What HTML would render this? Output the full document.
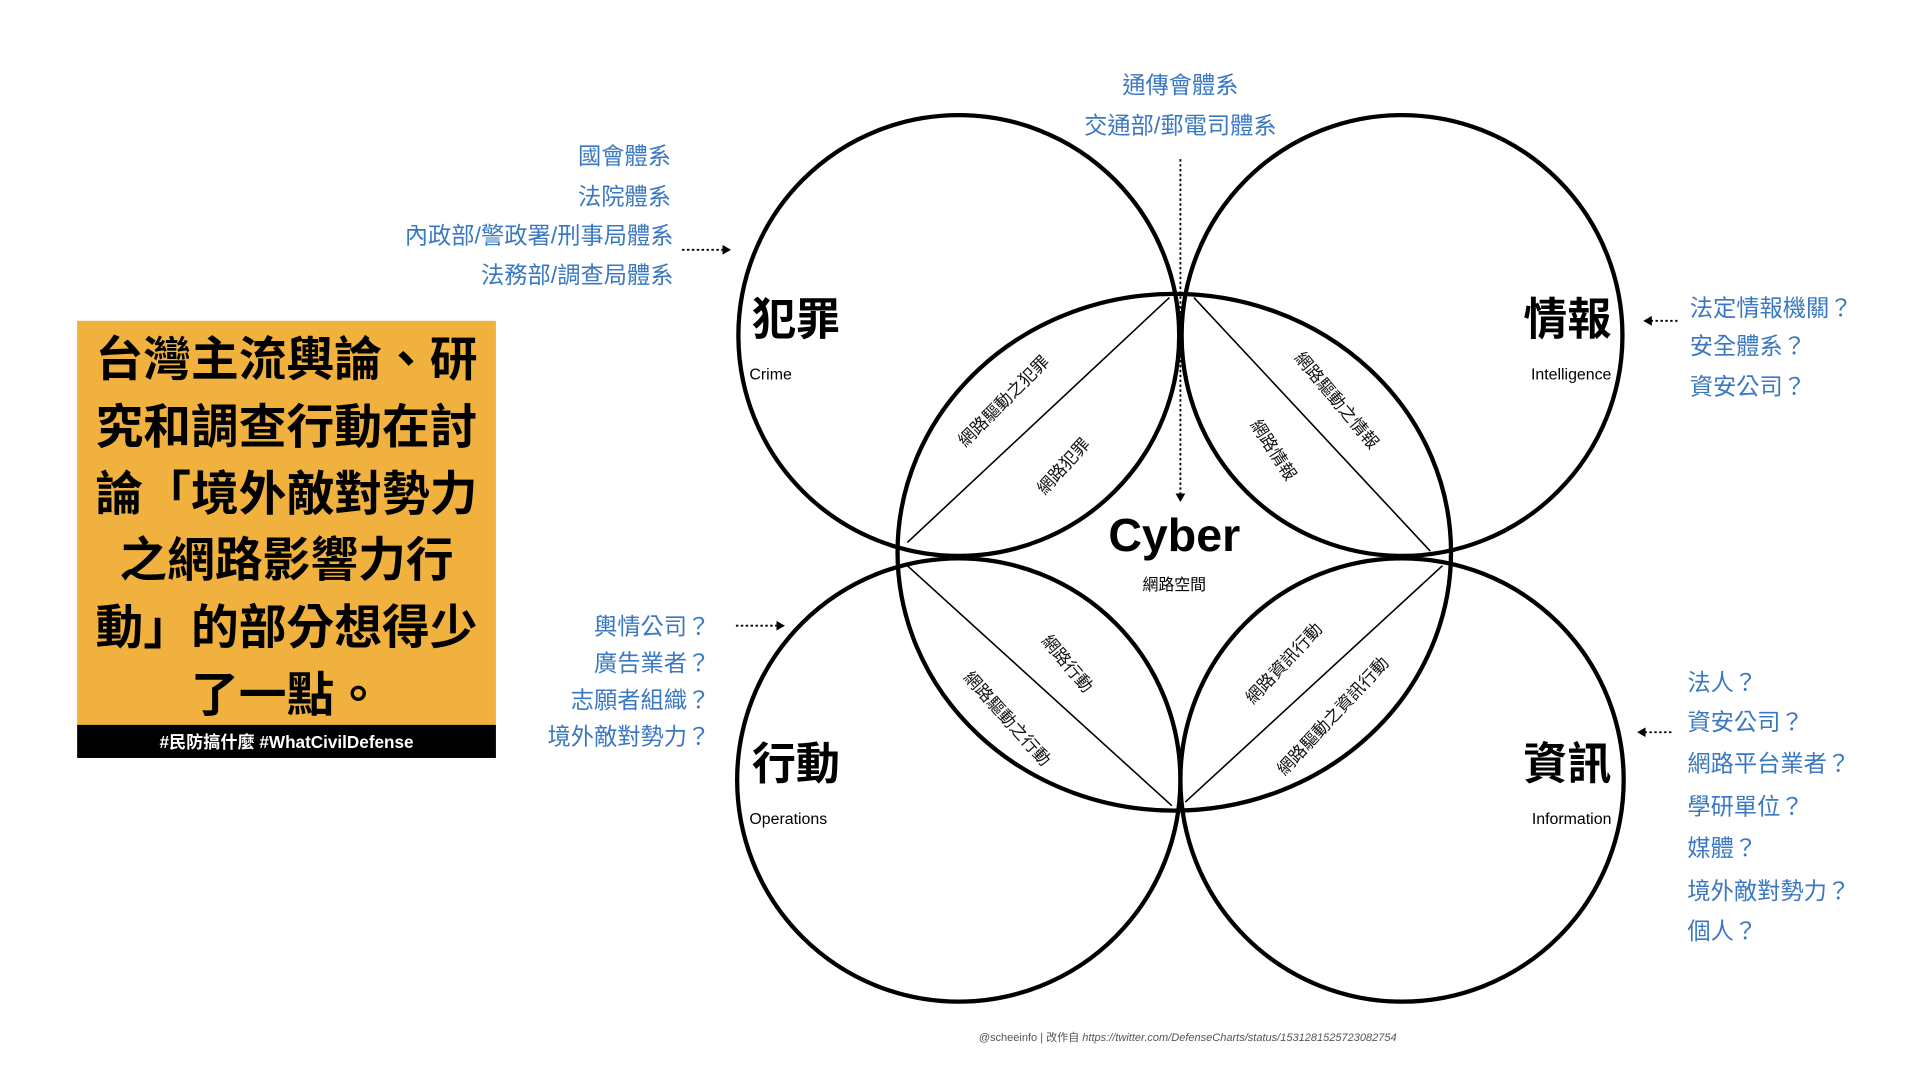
<!DOCTYPE html>
<html><head><meta charset="utf-8"><style>
html,body{margin:0;padding:0;background:#fff;}
svg{display:block;}
text{font-family:"Liberation Sans","Noto Sans CJK TC",sans-serif;}
.b{fill:#3b78c2;font-size:19px;}
.r{text-anchor:end;}
.m{text-anchor:middle;}
.lab{font-size:14px;fill:#111;text-anchor:middle;}
</style></head><body>
<svg width="1920" height="1080" viewBox="0 0 1568 882" preserveAspectRatio="none" xmlns="http://www.w3.org/2000/svg">
<defs><marker id="ah" markerWidth="8" markerHeight="8" refX="6" refY="4" orient="auto" markerUnits="userSpaceOnUse"><path d="M0,0 L7,4 L0,8 z" fill="#000"/></marker></defs>
<rect x="0" y="0" width="1568" height="882" fill="#fff"/>
<rect x="63" y="262" width="342" height="331" fill="#f0b13f"/>
<rect x="63" y="592" width="342" height="27" fill="#000"/>
<g font-weight="bold" font-size="39" fill="#000" text-anchor="middle">
<text x="234" y="307">台灣主流輿論、研</text>
<text x="234" y="362">究和調查行動在討</text>
<text x="234" y="417">論「境外敵對勢力</text>
<text x="234" y="471">之網路影響力行</text>
<text x="234" y="526">動」的部分想得少</text>
<text x="234" y="581">了一點。</text>
</g>
<text x="234" y="611" font-size="14" font-weight="bold" fill="#fff" text-anchor="middle">#民防搞什麼 #WhatCivilDefense</text>
<g fill="none" stroke="#000" stroke-width="3.5">
<circle cx="783" cy="274" r="180"/>
<circle cx="1145" cy="274" r="180"/>
<circle cx="783" cy="637" r="181"/>
<circle cx="1145" cy="637" r="181"/>
<ellipse cx="959" cy="451" rx="226" ry="211"/>
</g>
<g stroke="#000" stroke-width="1.3">
<line x1="741" y1="443" x2="955" y2="243"/>
<line x1="975" y1="243" x2="1168" y2="450"/>
<line x1="741" y1="462" x2="957" y2="658"/>
<line x1="968" y1="655" x2="1178" y2="462"/>
</g>
<text x="614" y="273" font-size="36" font-weight="bold">犯罪</text>
<text x="612" y="310" font-size="13">Crime</text>
<text x="1316" y="273" font-size="36" font-weight="bold" text-anchor="end">情報</text>
<text x="1316" y="310" font-size="13" text-anchor="end">Intelligence</text>
<text x="614" y="636" font-size="36" font-weight="bold">行動</text>
<text x="612" y="673" font-size="13">Operations</text>
<text x="1316" y="636" font-size="36" font-weight="bold" text-anchor="end">資訊</text>
<text x="1316" y="673" font-size="13" text-anchor="end">Information</text>
<text x="959" y="450" font-size="38" font-weight="bold" class="m">Cyber</text>
<text x="959" y="482" font-size="13" class="m">網路空間</text>
<text class="lab" transform="translate(823,331) rotate(-45)">網路驅動之犯罪</text>
<text class="lab" transform="translate(872,384) rotate(-48)">網路犯罪</text>
<text class="lab" transform="translate(1088,330) rotate(50)">網路驅動之情報</text>
<text class="lab" transform="translate(1036,370) rotate(57)">網路情報</text>
<text class="lab" transform="translate(868,545) rotate(50)">網路行動</text>
<text class="lab" transform="translate(819,590) rotate(48)">網路驅動之行動</text>
<text class="lab" transform="translate(1052,545) rotate(-47)">網路資訊行動</text>
<text class="lab" transform="translate(1092,588) rotate(-47)">網路驅動之資訊行動</text>
<text class="b r" x="548" y="134">國會體系</text>
<text class="b r" x="548" y="167">法院體系</text>
<text class="b r" x="550" y="199">內政部/警政署/刑事局體系</text>
<text class="b r" x="550" y="231">法務部/調查局體系</text>
<text class="b m" x="964" y="76">通傳會體系</text>
<text class="b m" x="964" y="109">交通部/郵電司體系</text>
<text class="b" x="1380" y="258">法定情報機關？</text>
<text class="b" x="1380" y="289">安全體系？</text>
<text class="b" x="1380" y="322">資安公司？</text>
<text class="b r" x="580" y="518">輿情公司？</text>
<text class="b r" x="580" y="548">廣告業者？</text>
<text class="b r" x="580" y="578">志願者組織？</text>
<text class="b r" x="580" y="608">境外敵對勢力？</text>
<text class="b" x="1378" y="564">法人？</text>
<text class="b" x="1378" y="596">資安公司？</text>
<text class="b" x="1378" y="630">網路平台業者？</text>
<text class="b" x="1378" y="665">學研單位？</text>
<text class="b" x="1378" y="699">媒體？</text>
<text class="b" x="1378" y="734">境外敵對勢力？</text>
<text class="b" x="1378" y="767">個人？</text>
<g stroke="#000" stroke-width="1.5" stroke-dasharray="2,2" fill="none" marker-end="url(#ah)">
<line x1="557" y1="204" x2="596" y2="204"/>
<line x1="964" y1="130" x2="964" y2="409"/>
<line x1="1370" y1="262" x2="1343" y2="262"/>
<line x1="601" y1="511" x2="640" y2="511"/>
<line x1="1365" y1="598" x2="1338" y2="598"/>
</g>
<text x="970" y="850" font-size="9" fill="#555" class="m">@scheeinfo | 改作自 <tspan font-style="italic">https://twitter.com/DefenseCharts/status/1531281525723082754</tspan></text>
</svg>
</body></html>
